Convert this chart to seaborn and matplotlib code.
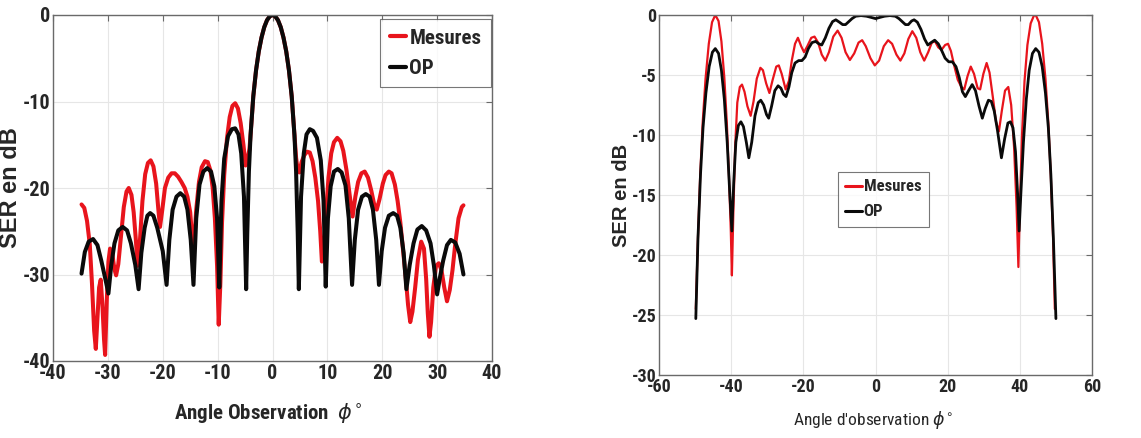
import matplotlib
matplotlib.use("Agg")
import matplotlib.pyplot as plt
import seaborn as sns
import pandas as pd

# ---- Left panel: SER versus observation angle (narrow main lobe) ----
op_left_x = [-34.8, -34.2, -33.5, -32.7, -31.9, -31.2, -30.5, -29.9,
             -29.4, -28.8, -28.1, -27.3, -26.5, -25.8, -25.0, -24.4,
             -23.9, -23.3, -22.8, -22.3, -21.7, -21.0, -20.0, -19.3,
             -18.8, -18.2, -17.5, -16.8, -16.1, -15.5, -14.9, -14.4,
             -13.9, -13.3, -12.6, -11.9, -11.2, -10.6, -10.1, -9.7,
             -9.3, -8.8, -8.1, -7.4, -6.8, -6.2, -5.7, -5.2, -4.8,
             -4.6, -4.3, -4.0, -3.5, -3.0, -2.5, -2.0, -1.5, -1.0, -0.5, 0.0,
             0.5, 1.0, 1.5, 2.0, 2.5, 3.0, 3.5, 4.0, 4.3, 4.6,
             4.8, 5.2, 5.7, 6.2, 6.8, 7.4, 8.1, 8.8, 9.3, 9.7,
             10.1, 10.6, 11.2, 11.9, 12.6, 13.3, 13.9, 14.5,
             15.0, 15.6, 16.3, 17.0, 17.7, 18.3, 18.9, 19.4,
             19.9, 20.5, 21.2, 22.0, 22.7, 23.3, 23.9, 24.4,
             25.0, 25.7, 26.4, 27.2, 28.0, 28.8, 29.4, 30.0,
             30.5, 31.1, 31.8, 32.5, 33.3, 34.1, 34.8]
op_left_y = [-29.9, -27.4, -26.2, -25.9, -26.6, -28.4, -30.4, -32.2,
             -29.0, -26.4, -24.9, -24.5, -24.9, -26.4, -28.9, -31.7,
             -27.5, -24.6, -23.2, -22.9, -23.2, -24.6, -27.3, -31.2,
             -26.0, -22.5, -21.0, -20.6, -21.0, -22.5, -26.0, -31.2,
             -23.5, -19.6, -18.1, -17.7, -18.1, -19.8, -23.5, -31.5,
             -21.5, -16.6, -14.0, -13.2, -13.1, -13.8, -16.0, -21.0, -31.7,
             -25.3, -18.1, -13.9, -9.4, -6.4, -4.2, -2.6, -1.4, -0.6, -0.15, 0.0,
             -0.15, -0.6, -1.4, -2.6, -4.2, -6.4, -9.4, -13.9, -18.1, -25.3,
             -31.7, -21.0, -16.0, -13.8, -13.2, -13.4, -14.2, -16.8, -21.5, -31.4,
             -23.5, -19.8, -18.1, -17.8, -18.2, -19.7, -23.5, -31.2,
             -26.0, -22.5, -21.0, -20.7, -21.0, -22.5, -26.0, -31.2,
             -27.3, -24.6, -23.2, -22.9, -23.2, -24.6, -27.5, -31.7,
             -28.9, -26.4, -24.8, -24.4, -24.9, -26.4, -28.9, -32.3,
             -30.4, -28.4, -26.6, -26.0, -26.3, -27.6, -30.0]

mes_left_x = [-34.8, -34.3, -33.8, -33.3, -32.9, -32.5, -32.2, -31.9, -31.6,
              -31.3, -31.0, -30.7, -30.5, -30.2, -29.9, -29.6, -29.2, -28.8,
              -28.5, -28.1, -27.6, -27.1, -26.6, -26.2, -25.7, -25.3, -24.9,
              -24.6, -24.2, -23.7, -23.2, -22.7, -22.2, -21.7, -21.2, -20.8,
              -20.5, -20.1, -19.6, -19.0, -18.4, -17.8, -17.2, -16.6, -16.0,
              -15.5, -15.0, -14.6, -14.3, -13.9, -13.4, -12.9, -12.3, -11.8,
              -11.3, -10.9, -10.5, -10.1, -9.8, -9.5, -9.2, -8.8, -8.3, -7.8,
              -7.3, -6.8, -6.3, -5.8, -5.3, -4.9, -4.5, -4.2, -4.0, -3.5,
              -3.0, -2.5, -2.0, -1.5, -1.0, -0.5, 0.0, 0.5, 1.0, 1.5, 2.0,
              2.5, 3.0, 3.5, 4.0, 4.3, 4.6, 4.9, 5.3, 5.8, 6.3, 6.8, 7.3,
              7.8, 8.3, 8.7, 9.0, 9.3, 9.7, 10.2, 10.7, 11.2, 11.8, 12.4,
              12.9, 13.5, 14.1, 14.6, 15.1, 15.6, 16.2, 16.8, 17.4, 18.0,
              18.5, 19.0, 19.5, 20.1, 20.6, 21.2, 21.7, 22.3, 22.8, 23.3,
              23.8, 24.3, 24.7, 25.1, 25.5, 26.0, 26.5, 27.1, 27.6, 28.0,
              28.3, 28.6, 28.9, 29.3, 29.8, 30.3, 30.8, 31.3, 31.8, 32.3,
              32.8, 33.3, 33.9, 34.5, 34.8]
mes_left_y = [-21.9, -22.3, -23.8, -26.5, -31.0, -36.5, -38.6, -35.0, -31.5,
              -30.6, -33.5, -37.5, -39.3, -33.0, -28.5, -27.0, -27.6, -29.4,
              -30.1, -28.8, -25.5, -22.2, -20.4, -20.0, -20.8, -22.8, -26.0,
              -29.0, -26.5, -21.5, -18.4, -17.1, -16.8, -17.5, -19.5, -22.5,
              -24.5, -22.6, -20.0, -18.8, -18.3, -18.3, -18.7, -19.3, -20.0,
              -21.0, -22.8, -26.0, -26.5, -22.5, -19.3, -17.6, -16.9, -17.0,
              -18.0, -20.0, -23.5, -29.0, -35.8, -31.0, -24.0, -18.5, -14.3, -11.8,
              -10.5, -10.2, -10.8, -12.5, -15.0, -17.4, -16.5, -15.5, -13.9, -9.4,
              -6.4, -4.2, -2.6, -1.4, -0.6, -0.15, 0.0, -0.15, -0.6, -1.4, -2.6,
              -4.2, -6.4, -9.4, -13.9, -16.5, -18.0, -18.2, -17.0, -16.2, -15.8, -15.9, -16.9,
              -18.8, -21.5, -25.0, -28.5, -27.5, -23.5, -18.8, -16.0, -14.7, -14.2, -14.6,
              -15.7, -18.0, -21.0, -23.3, -21.0, -19.3, -18.3, -18.1, -18.8, -20.3,
              -21.8, -22.5, -21.3, -19.5, -18.5, -18.1, -18.3, -19.6, -21.5, -24.0,
              -27.3, -30.5, -33.5, -35.5, -34.3, -31.5, -28.3, -26.2, -27.0, -30.5,
              -34.5, -37.2, -35.5, -31.5, -29.0, -28.7, -29.5, -31.5, -33.1, -31.8,
              -29.5, -26.5, -23.5, -22.2, -22.0]

# ---- Right panel: SER versus observation angle (wide plateau) ----
op_right_x = [-49.8, -49.2, -48.5, -47.8, -47.0, -46.1, -45.2, -44.4, -43.5,
              -42.7, -41.9, -41.1, -40.4, -39.8, -39.3, -38.7, -38.0, -37.3,
              -36.6, -35.8, -35.1, -34.3, -33.4, -32.5, -31.8, -31.0, -30.2,
              -29.6, -28.8, -27.9, -27.0, -26.2, -25.5, -24.8, -24.0, -23.2,
              -22.3, -21.3, -20.4, -19.5, -18.6, -17.6, -16.6, -15.7, -14.9,
              -13.9, -12.9, -11.9, -11.0, -10.0, -9.1, -8.3, -7.4, -6.5, -5.5,
              -4.0, -2.5, -1.2, 0.0, 1.2, 2.5, 4.0, 5.5, 6.5, 7.4, 8.3, 9.1,
              10.0, 10.7, 11.6, 12.6, 13.6, 14.5, 15.4, 16.4, 17.4, 18.4, 19.3,
              20.3, 21.3, 22.3, 23.2, 24.1, 24.9, 25.8, 26.8, 27.7, 28.7, 29.6,
              30.4, 31.3, 32.1, 32.9, 33.8, 34.9, 35.8, 36.7, 37.4, 38.1, 38.8,
              39.4, 39.8, 40.3, 41.0, 41.8, 42.6, 43.5, 44.4, 45.3, 46.2, 47.1,
              47.9, 48.6, 49.3, 50.0]
op_right_y = [-25.3, -18.6, -13.3, -9.4, -6.5, -4.3, -3.1, -2.8, -3.2,
              -4.6, -7.0, -10.6, -14.8, -18.0, -14.0, -10.6, -9.2, -8.9,
              -9.3, -10.6, -11.9, -10.6, -8.4, -7.3, -7.1, -7.5, -8.3,
              -8.6, -7.6, -6.3, -5.9, -6.1, -6.6, -6.8, -6.0, -4.8,
              -4.0, -3.8, -3.8, -3.5, -2.8, -2.3, -2.2, -2.4, -2.5,
              -1.9, -1.1, -0.55, -0.4, -0.6, -0.8, -0.8, -0.55, -0.3, -0.1,
              -0.05, -0.1, -0.2, -0.3, -0.2, -0.1, -0.05, -0.1, -0.3, -0.55, -0.8, -0.8,
              -0.5, -0.4, -0.6, -1.2, -2.0, -2.5, -2.3, -2.1, -2.4, -3.0, -3.6,
              -3.9, -3.9, -4.3, -5.2, -6.4, -6.8, -6.3, -5.8, -6.3, -7.6, -8.6,
              -7.8, -7.1, -7.2, -8.0, -9.6, -11.9, -10.3, -9.0, -8.9, -9.4, -11.4,
              -15.0, -18.0, -14.8, -10.6, -7.0, -4.6, -3.2, -2.8, -3.1, -4.3, -6.5,
              -9.4, -13.3, -18.6, -25.3]

mes_right_x = [-49.8, -49.2, -48.6, -47.9, -47.1, -46.2, -45.3, -44.4, -43.5,
               -42.7, -41.9, -41.2, -40.6, -40.1, -39.8, -39.4, -38.9, -38.3,
               -37.6, -37.0, -36.3, -35.5, -34.6, -33.8, -32.9, -31.9, -31.2,
               -30.3, -29.4, -28.5, -27.5, -26.8, -26.0, -24.9, -24.0, -23.2,
               -22.3, -21.5, -20.6, -19.8, -18.9, -17.8, -16.9, -15.9, -14.9,
               -13.9, -12.9, -11.7, -10.5, -9.4, -8.3, -7.1, -5.9, -4.7, -3.7,
               -2.7, -1.4, -0.2, 1.0, 2.3, 3.5, 4.6, 5.8, 6.9, 8.0, 9.1, 10.2,
               11.3, 12.4, 13.5, 14.6, 15.6, 16.5, 17.4, 18.3, 19.3, 20.1, 20.9,
               21.8, 22.8, 23.8, 24.6, 25.5, 26.4, 27.3, 28.3, 29.0, 29.9, 30.8,
               31.6, 32.5, 33.4, 34.2, 35.0, 35.9, 36.8, 37.6, 38.4, 39.1, 39.6,
               40.0, 40.6, 41.3, 42.1, 43.0, 43.9, 44.4, 45.3, 46.2, 47.1, 47.9,
               48.6, 49.2, 49.7]
mes_right_y = [-24.5, -18.5, -13.5, -9.0, -5.3, -2.4, -0.6, 0.0, -0.5,
               -2.2, -5.2, -9.0, -13.5, -18.0, -21.7, -16.5, -11.0, -7.3,
               -6.0, -5.8, -6.4, -7.6, -8.4, -7.2, -5.3, -4.4, -4.6,
               -5.7, -6.5, -5.4, -4.3, -4.2, -4.9, -6.2, -5.5, -3.8,
               -2.4, -1.9, -2.6, -3.1, -2.6, -1.9, -1.8, -2.3, -3.3,
               -3.8, -3.1, -1.8, -1.3, -1.9, -3.1, -3.75, -3.2, -2.3, -2.1,
               -2.6, -3.6, -4.2, -3.8, -2.6, -2.1, -2.4, -3.3, -3.8, -3.2, -2.0, -1.35,
               -1.9, -3.1, -3.8, -3.1, -2.3, -2.2, -2.7, -2.9, -2.5, -2.4, -3.0,
               -4.2, -5.4, -6.0, -6.2, -5.1, -4.3, -4.9, -6.1, -6.2, -4.9, -4.0,
               -4.8, -6.8, -8.9, -9.7, -8.0, -6.3, -6.0, -7.5, -11.0, -16.0, -21.0,
               -16.0, -10.0, -5.5, -2.5, -0.7, -0.05, 0.0, -0.6, -2.4, -5.3, -9.0,
               -13.5, -18.5, -24.5]

series_names = ["Mesures", "OP"]
red = "#e8141c"
black = "#0a0a0a"

sns.set_style("white")
plt.rcParams["font.family"] = ["Roboto Condensed", "Liberation Sans Narrow",
                               "Liberation Sans", "DejaVu Sans"]
plt.rcParams["mathtext.fontset"] = "dejavusans"
plt.rcParams["axes.unicode_minus"] = False
wide_font = ["Liberation Sans", "DejaVu Sans"]

fig = plt.figure(figsize=(11.41, 4.38), dpi=100)
W, H = 1141, 438
ax1 = fig.add_axes([53 / W, 1 - 361 / H, (492 - 53) / W, (361 - 15) / H])
ax2 = fig.add_axes([659 / W, 1 - 375 / H, (1092 - 659) / W, (375 - 15) / H])


def draw_panel(ax, mx, my, ox, oy, lw_m, lw_o):
    dm = pd.DataFrame({"angle": mx, "ser": my})
    do = pd.DataFrame({"angle": ox, "ser": oy})
    sns.lineplot(data=dm, x="angle", y="ser", ax=ax, color=red, lw=lw_m,
                 label=series_names[0], estimator=None, sort=False)
    sns.lineplot(data=do, x="angle", y="ser", ax=ax, color=black, lw=lw_o,
                 label=series_names[1], estimator=None, sort=False)
    ax.grid(True, color="#e6e6e6", lw=0.8)
    ax.set_axisbelow(True)
    for s in ax.spines.values():
        s.set_color("#6a6a6a")
        s.set_linewidth(1.0)
    ax.tick_params(direction="in", length=4, width=0.8, color="#6a6a6a",
                   top=True, right=True, pad=2)


draw_panel(ax1, mes_left_x, mes_left_y, op_left_x, op_left_y, 2.9, 2.9)
draw_panel(ax2, mes_right_x, mes_right_y, op_right_x, op_right_y, 1.6, 2.0)

# Left axes
ax1.set_xlim(-40, 40)
ax1.set_ylim(-40, 0)
ax1.set_xticks([-40, -30, -20, -10, 0, 10, 20, 30, 40])
ax1.set_yticks([-40, -30, -20, -10, 0])
for lab in ax1.get_xticklabels() + ax1.get_yticklabels():
    lab.set_fontsize(14.5)
    lab.set_fontweight("bold")
ax1.set_ylabel("SER en dB", fontsize=17, fontweight="bold", family=wide_font)
ax1.yaxis.set_label_coords(-0.07, 0.5)
ax1.set_xlabel(r"Angle Observation  $\phi^{\circ}$", fontsize=15, fontweight="bold")
ax1.xaxis.set_label_coords(0.49, -0.115)
leg1 = ax1.legend(loc="upper right", bbox_to_anchor=(0.997, 0.988), frameon=True,
                  fancybox=False, edgecolor="#555555", handlelength=0.8,
                  handletextpad=0.15, borderpad=0.45, labelspacing=0.55,
                  borderaxespad=0.0, prop={"size": 15, "weight": "bold"})
leg1.get_frame().set_linewidth(0.8)
for ln in leg1.get_lines():
    ln.set_linewidth(3.0)

# Right axes
ax2.set_xlim(-60, 60)
ax2.set_ylim(-30, 0)
ax2.set_xticks([-60, -40, -20, 0, 20, 40, 60])
ax2.set_yticks([-30, -25, -20, -15, -10, -5, 0])
for lab in ax2.get_xticklabels() + ax2.get_yticklabels():
    lab.set_fontsize(13)
    lab.set_fontweight("bold")
ax2.set_ylabel("SER en dB", fontsize=14.5, fontweight="bold", family=wide_font)
ax2.yaxis.set_label_coords(-0.064, 0.5)
ax2.set_xlabel(r"Angle d'observation $\phi^{\circ}$", fontsize=12.5)
ax2.xaxis.set_label_coords(0.495, -0.095)
leg2 = ax2.legend(loc="upper left", bbox_to_anchor=(0.413, 0.564), frameon=True,
                  fancybox=False, edgecolor="#555555", handlelength=1.0,
                  handletextpad=0.1, borderpad=0.45, labelspacing=0.6,
                  borderaxespad=0.0, prop={"size": 12, "weight": "bold"})
leg2.get_frame().set_linewidth(0.8)
for ln in leg2.get_lines():
    ln.set_linewidth(2.2)

fig.savefig("out.png", dpi=100)
